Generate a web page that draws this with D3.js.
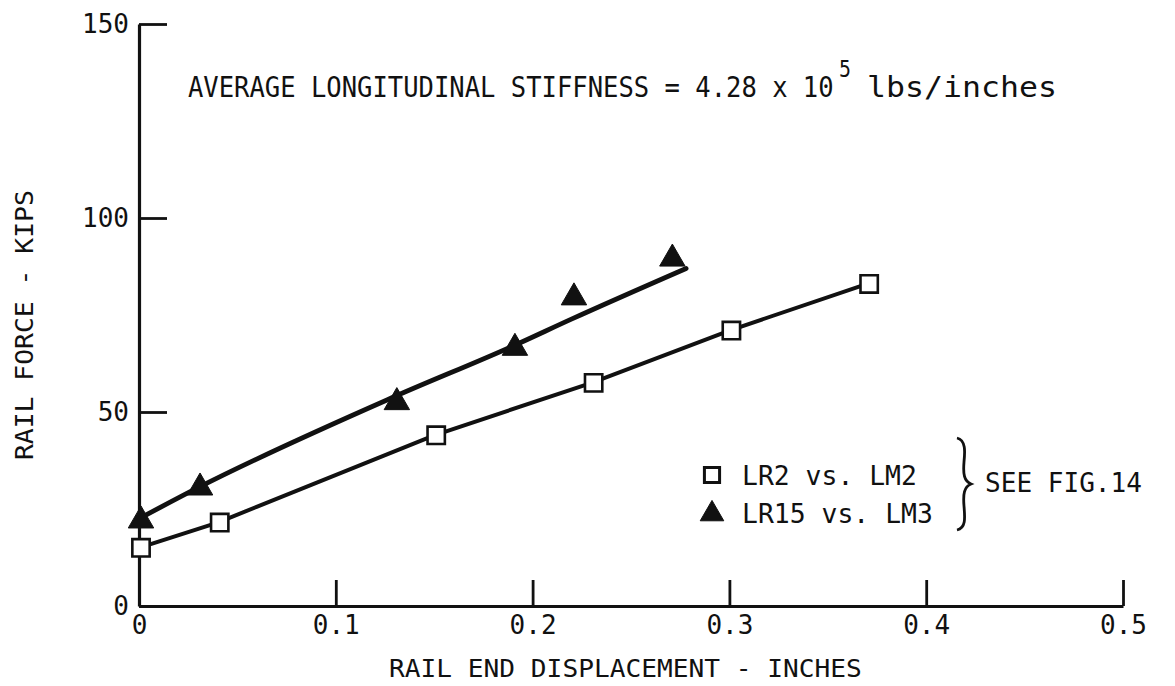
<!DOCTYPE html>
<html>
<head>
<meta charset="utf-8">
<script src="https://cdn.jsdelivr.net/npm/d3@7"></script>
<style>
  html, body { margin: 0; padding: 0; background: #fff; }
  svg { display: block; }
  text { font-family: "DejaVu Sans Mono", "Liberation Mono", monospace; fill: #111; }
</style>
</head>
<body>
<svg id="chart" width="1175" height="686"></svg>
<script>
// Measured points: LR2 vs. LM2 (open squares)
const squareX = [0, 0.04, 0.15, 0.23, 0.30, 0.37];
const squareY = [15, 21.5, 44, 57.5, 71, 83];

// Measured points: LR15 vs. LM3 (filled triangles)
const triX = [0, 0.03, 0.13, 0.19, 0.22, 0.27];
const triY = [22, 30.5, 52.5, 66.5, 79.5, 89.5];

// Faired curve drawn through the LR15 vs. LM3 points
const triFitX = [0, 0.03, 0.13, 0.19, 0.22, 0.278];
const triFitY = [22.5, 30.5, 54, 67, 74, 87];

// Axis ticks
const xTicks = [0, 0.1, 0.2, 0.3, 0.4, 0.5];
const xTickLabels = ["0", "0.1", "0.2", "0.3", "0.4", "0.5"];
const yTicks = [0, 50, 100, 150];
const yTickLabels = ["0", "50", "100", "150"];

const legendLabels = ["LR2 vs. LM2", "LR15 vs. LM3"];

const svg = d3.select("#chart");
const ink = "#111";

const x = d3.scaleLinear().domain([0, 0.5]).range([139, 1123]);
const y = d3.scaleLinear().domain([0, 150]).range([606, 24]);

// Draws a line of narrow lettering: text is squeezed horizontally to span `width`
function narrowText(parent, str, px, py, size, width, angle = 0) {
  const t = parent.append("text").attr("font-size", size).text(str);
  const natural = t.node().getComputedTextLength();
  t.attr("transform", `translate(${px},${py}) rotate(${angle}) scale(${width / natural},1)`);
  return t;
}

// Y axis: ticks point into the plot, labels on the left
const yAxis = svg.append("g")
  .attr("transform", `translate(${x(0)},0)`)
  .call(d3.axisLeft(y)
    .tickValues(yTicks)
    .tickFormat((d, i) => yTickLabels[i])
    .tickSizeInner(-28)
    .tickSizeOuter(0)
    .tickPadding(10));
yAxis.select(".domain").attr("stroke", ink).attr("stroke-width", 3.2);
yAxis.selectAll(".tick line").attr("stroke", ink).attr("stroke-width", 2.8);
yAxis.selectAll(".tick text")
  .attr("font-size", 26)
  .attr("font-family", "DejaVu Sans Mono")
  .attr("fill", ink);

// X axis: ticks point up into the plot, labels below
const xAxis = svg.append("g")
  .attr("transform", `translate(0,${y(0)})`)
  .call(d3.axisBottom(x)
    .tickValues(xTicks)
    .tickFormat((d, i) => xTickLabels[i])
    .tickSizeInner(-26)
    .tickSizeOuter(0)
    .tickPadding(10));
xAxis.select(".domain").attr("stroke", ink).attr("stroke-width", 3.2);
xAxis.selectAll(".tick line").attr("stroke", ink).attr("stroke-width", 2.8);
xAxis.selectAll(".tick text")
  .attr("font-size", 26)
  .attr("font-family", "DejaVu Sans Mono")
  .attr("fill", ink);

// Axis titles
narrowText(svg, "RAIL END DISPLACEMENT - INCHES", 389, 677, 25, 473);
narrowText(svg, "RAIL FORCE - KIPS", 33, 460, 25, 270, -90);

// Heading with the stiffness value, exponent raised as a superscript
const head = svg.append("g");
narrowText(head, "AVERAGE LONGITUDINAL STIFFNESS = 4.28 x 10", 188, 97, 29, 646);
narrowText(head, "5", 839, 77, 23, 12);
narrowText(head, "lbs/inches", 867, 97, 29, 190);

// Curves
const sqPts = squareX.map((v, i) => [v, squareY[i]]);
const triFitPts = triFitX.map((v, i) => [v, triFitY[i]]);

const sqLine = d3.line()
  .x(d => x(d[0]))
  .y(d => y(d[1]))
  .curve(d3.curveLinear);

const fitLine = d3.line()
  .x(d => x(d[0]))
  .y(d => y(d[1]))
  .curve(d3.curveMonotoneX);

svg.append("path")
  .datum(sqPts)
  .attr("d", sqLine)
  .attr("fill", "none")
  .attr("stroke", ink)
  .attr("stroke-width", 4)
  .attr("stroke-linejoin", "round")
  .attr("stroke-linecap", "round");

svg.append("path")
  .datum(triFitPts)
  .attr("d", fitLine)
  .attr("fill", "none")
  .attr("stroke", ink)
  .attr("stroke-width", 4.8)
  .attr("stroke-linecap", "round");

// Markers
const square = d3.symbol().type(d3.symbolSquare).size(300);
const triangle = d3.symbol().type(d3.symbolTriangle).size(280);

svg.append("g").selectAll("path")
  .data(sqPts)
  .join("path")
  .attr("transform", d => `translate(${x(d[0]) + 2},${y(d[1])})`)
  .attr("d", square)
  .attr("fill", "#fff")
  .attr("stroke", ink)
  .attr("stroke-width", 2.6);

const triPts = triX.map((v, i) => [v, triY[i]]);
svg.append("g").selectAll("path")
  .data(triPts)
  .join("path")
  .attr("transform", d => `translate(${x(d[0]) + 2},${y(d[1])})`)
  .attr("d", triangle)
  .attr("fill", ink)
  .attr("stroke", ink)
  .attr("stroke-width", 1);

// Legend
const legend = svg.append("g");
legend.append("path")
  .attr("transform", "translate(712,475)")
  .attr("d", d3.symbol().type(d3.symbolSquare).size(230))
  .attr("fill", "#fff").attr("stroke", ink).attr("stroke-width", 3);
legend.append("path")
  .attr("transform", "translate(712,514)")
  .attr("d", d3.symbol().type(d3.symbolTriangle).size(240))
  .attr("fill", ink).attr("stroke", ink).attr("stroke-width", 1);
narrowText(legend, legendLabels[0], 742, 485, 27, 175);
narrowText(legend, legendLabels[1], 742, 523, 27, 191);

// Right-hand brace grouping both legend entries
legend.append("path")
  .attr("d", "M957,438 C966,440 965,452 964,462 C963,474 964,481 971,484 C964,487 963,494 964,506 C965,518 966,528 957,530")
  .attr("fill", "none")
  .attr("stroke", ink)
  .attr("stroke-width", 2.8);
narrowText(legend, "SEE FIG.14", 985, 492, 27, 157);
</script>
</body>
</html>
